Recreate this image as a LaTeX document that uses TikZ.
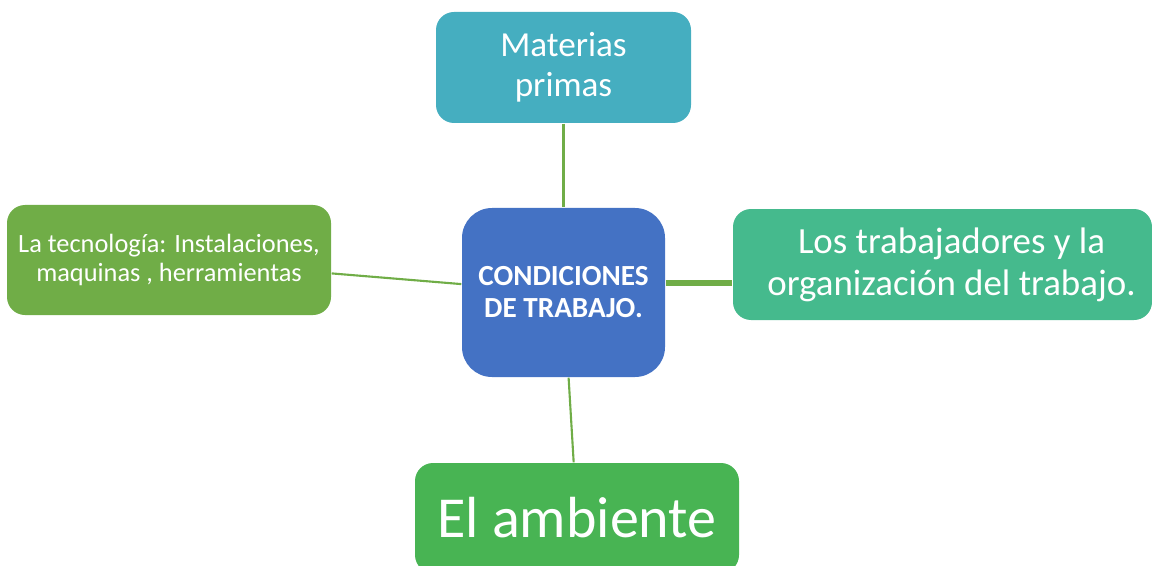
\documentclass[tikz,border=0pt]{standalone}
\usepackage{fontspec}
\setmainfont{Carlito}
\usetikzlibrary{positioning}
\definecolor{turq}{HTML}{45AEC0}
\definecolor{azul}{HTML}{4472C4}
\definecolor{verde}{HTML}{70AD47}
\definecolor{menta}{HTML}{45BA8D}
\definecolor{pasto}{HTML}{48B453}
\begin{document}
\begin{tikzpicture}[
        box/.style={rectangle, rounded corners=0.18cm, text=white,
            align=center, inner sep=0pt},
        lnk/.style={draw=verde, line width=0.6pt}
    ]
        \clip (0,0) rectangle (11.52,-5.66);
        \node[box, fill=azul, rounded corners=0.3cm, minimum width=2.03cm, minimum height=1.69cm,
            font=\fontsize{8.3}{9.1}\selectfont\bfseries] (centro) at (5.635,-2.925)
            {CONDICIONES\\DE TRABAJO.};
        \node[box, fill=turq, minimum width=2.55cm, minimum height=1.11cm,
            font=\fontsize{10}{11.4}\selectfont] (materias) at (5.635,-0.675)
            {\vphantom{Mp}Materias\\primas};
        \node[box, fill=verde, minimum width=3.24cm, minimum height=1.10cm,
            font=\fontsize{7.5}{8}\selectfont] (tecno) at (1.69,-2.60)
            {La tecnología: Instalaciones,\\maquinas , herramientas};
        \node[box, fill=menta, minimum width=4.19cm, minimum height=1.11cm,
            font=\fontsize{10.5}{12}\selectfont] (trab) at (9.425,-2.645)
            {\hspace*{0.18cm}Los trabajadores y la\\\hspace*{0.18cm}organización del trabajo.};
        \node[box, fill=pasto, minimum width=3.24cm, minimum height=1.10cm,
            font=\fontsize{16.5}{19}\selectfont] (amb) at (5.77,-5.18)
            {El ambiente};

        \draw[lnk] (materias) -- (centro);
        \draw[lnk] (tecno) -- (centro);
        \draw[lnk] (centro) -- (amb);
        \draw[lnk, line width=1.7pt] ([yshift=0.095cm]centro.east)
            -- ([yshift=0.095cm]centro.east -| trab.west);
    \end{tikzpicture}
\end{document}
